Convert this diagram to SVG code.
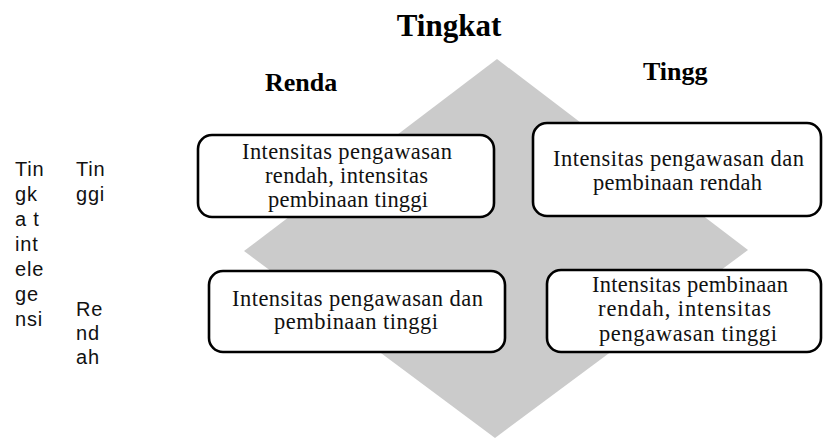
<svg xmlns="http://www.w3.org/2000/svg" width="823" height="439" viewBox="0 0 823 439">
<style>
.box{fill:#fff;stroke:#000;stroke-width:2.6}
.bt{font-family:"Liberation Serif","Times New Roman",serif;font-size:22.5px;fill:#111}
.hd{font-family:"Liberation Serif","Times New Roman",serif;font-weight:bold;fill:#000}
.side{font-family:"Liberation Sans",Arial,sans-serif;font-size:20px;letter-spacing:0.8px;fill:#111}
</style>
<rect width="823" height="439" fill="#fff"/>
<polygon id="diamond" points="497,59 748,250 495,438 244,251" fill="#cbcbcb"/>
<g id="headers">
<text class="hd" x="449" y="36" font-size="31" text-anchor="middle">Tingkat</text>
<text class="hd" x="265" y="91" font-size="26">Renda</text>
<text class="hd" x="643" y="80" font-size="26">Tingg</text>
</g>
<g id="side-labels" class="side">
<text x="15" y="176">Tin</text>
<text x="15" y="201">gk</text>
<text x="15" y="226">a t</text>
<text x="15" y="251">int</text>
<text x="15" y="276">ele</text>
<text x="15" y="301">ge</text>
<text x="15" y="325.5">nsi</text>
<text x="76" y="176">Tin</text>
<text x="76" y="201">ggi</text>
<text x="76" y="316">Re</text>
<text x="76" y="340">nd</text>
<text x="76" y="363.5">ah</text>
</g>
<g id="node-tl">
<rect class="box" x="198" y="135" width="296" height="82" rx="14"/>
<text class="bt" x="242" y="159" textLength="210" lengthAdjust="spacing">Intensitas pengawasan</text>
<text class="bt" x="265" y="183" textLength="163" lengthAdjust="spacing">rendah, intensitas</text>
<text class="bt" x="268" y="207" textLength="160" lengthAdjust="spacing">pembinaan tinggi</text>
</g>
<g id="node-tr">
<rect class="box" x="533" y="123" width="288" height="93" rx="14"/>
<text class="bt" x="553" y="166" textLength="251" lengthAdjust="spacing">Intensitas pengawasan dan</text>
<text class="bt" x="593" y="189.5" textLength="169" lengthAdjust="spacing">pembinaan rendah</text>
</g>
<g id="node-bl">
<rect class="box" x="209" y="271" width="296" height="81" rx="14"/>
<text class="bt" x="232" y="305.5" textLength="251" lengthAdjust="spacing">Intensitas pengawasan dan</text>
<text class="bt" x="274" y="329" textLength="164" lengthAdjust="spacing">pembinaan tinggi</text>
</g>
<g id="node-br">
<rect class="box" x="547" y="270" width="274" height="82" rx="14"/>
<text class="bt" x="592" y="292" textLength="196" lengthAdjust="spacing">Intensitas pembinaan</text>
<text class="bt" x="598" y="316" textLength="173" lengthAdjust="spacing">rendah, intensitas</text>
<text class="bt" x="599" y="341" textLength="178" lengthAdjust="spacing">pengawasan tinggi</text>
</g>
<g id="connectors"></g>
</svg>
